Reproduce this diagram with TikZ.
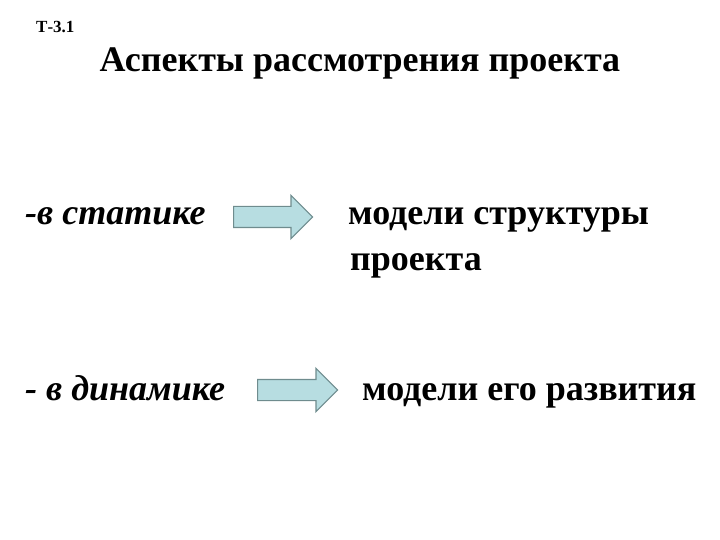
\documentclass[tikz,border=0pt]{standalone}
\usepackage{fontspec}
\setmainfont{Liberation Serif}
\usetikzlibrary{shapes.arrows}
\definecolor{arrowfill}{HTML}{B7DDE1}
\definecolor{arrowline}{HTML}{6F8C8E}

\tikzset{
  label/.style={anchor=base west, inner sep=0pt, font=\bfseries\fontsize{36}{40}\selectfont},
  aspect/.style={label, font=\bfseries\itshape\fontsize{36}{40}\selectfont},
  blockarrow/.style={single arrow, draw=arrowline, fill=arrowfill, line width=1.2pt,
    minimum height=79pt, minimum width=42pt, inner sep=10pt,
    single arrow head extend=11pt, anchor=west}
}

\begin{document}
\begin{tikzpicture}[x=1pt, y=-1pt]
\useasboundingbox (0,0) rectangle (720,540);

% heading
\node[label, font=\bfseries\fontsize{17}{19}\selectfont] (code) at (36,33) {Т-3.1};
\node[label, anchor=base, font=\bfseries\fontsize{36}{40}\selectfont] (title) at (360,72) {Аспекты рассмотрения проекта};

% statics
\node[aspect] (static) at (25,225) {-в статике};
\node[blockarrow] (arr1) at (233,217) {};
\node[label] (model1) at (348,225) {модели структуры};
\node[label] (model1b) at (350,270) {проекта};

% dynamics
\node[aspect] (dynamic) at (25,400) {- в динамике};
\node[blockarrow, minimum height=80pt] (arr2) at (257,390) {};
\node[label] (model2) at (362,400) {модели его развития};

\end{tikzpicture}
\end{document}
